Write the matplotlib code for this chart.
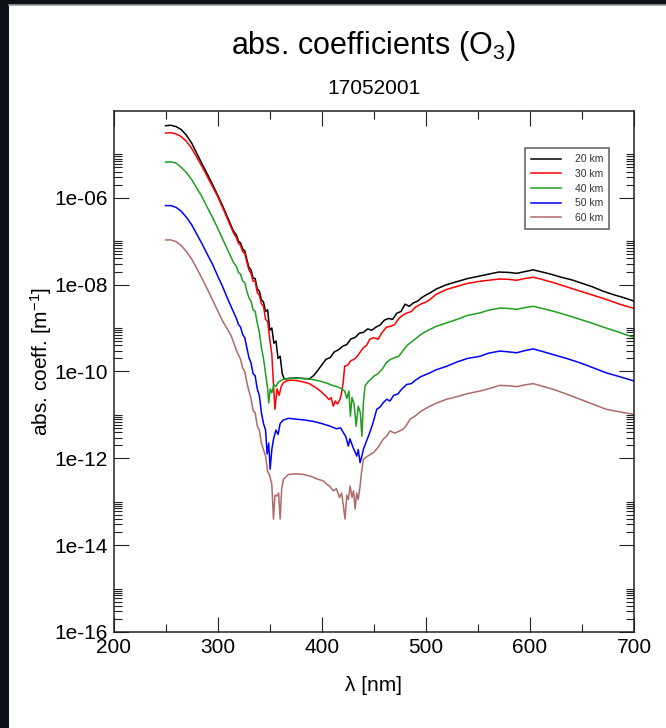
import numpy as np
import matplotlib
matplotlib.use("Agg")
import matplotlib.pyplot as plt
from matplotlib.patches import Rectangle
from matplotlib.ticker import FixedLocator, FuncFormatter

plt.rcParams['font.family'] = ['Liberation Sans', 'DejaVu Sans']
plt.rcParams['mathtext.fontset'] = 'custom'
plt.rcParams['mathtext.rm'] = 'Liberation Sans'
plt.rcParams['mathtext.it'] = 'Liberation Sans:italic'

# =========================
# data (log10 of abs. coeff. in m^-1)
# =========================
labels = ['20 km', '30 km', '40 km', '50 km', '60 km']
colors = ['#000000', '#ff0000', '#1f9f1f', '#0000ff', '#b06a6a']

wl_20 = [250, 255, 260, 265, 270, 275, 280, 285, 290, 295, 300, 305, 310, 315, 318, 320, 322, 324, 326, 328,
         330, 332, 334, 336, 338, 340, 342, 344, 346, 348, 350, 352, 354, 356, 358, 360, 362, 364, 368, 375,
         382, 388, 392, 396, 400, 404, 408, 412, 416, 420, 424, 428, 432, 436, 440, 444, 448, 452, 456, 460,
         464, 468, 472, 476, 480, 484, 488, 492, 496, 500, 504, 510, 520, 530, 540, 550, 560, 570, 580, 587,
         595, 603, 610, 620, 630, 640, 650, 660, 670, 680, 690, 700]
lk_20 = [-4.34, -4.33, -4.36, -4.43, -4.56, -4.74, -4.98, -5.22, -5.45, -5.69, -5.94, -6.20, -6.48, -6.76, -6.86,
         -7.00, -7.04, -7.18, -7.22, -7.42, -7.60, -7.66, -7.85, -7.86, -8.10, -8.15, -8.35, -8.40, -8.62, -8.58,
         -9.05, -9.00, -9.35, -9.30, -9.70, -9.65, -10.05, -10.18, -10.16, -10.15, -10.16, -10.17, -10.10, -9.98,
         -9.85, -9.72, -9.68, -9.55, -9.50, -9.42, -9.38, -9.25, -9.22, -9.12, -9.10, -9.02, -9.05, -8.98, -8.93,
         -8.82, -8.78, -8.80, -8.66, -8.62, -8.45, -8.50, -8.42, -8.38, -8.30, -8.24, -8.19, -8.10, -8.00, -7.93,
         -7.86, -7.81, -7.76, -7.71, -7.72, -7.74, -7.70, -7.66, -7.70, -7.76, -7.83, -7.89, -7.97, -8.05, -8.15,
         -8.23, -8.30, -8.38]

wl_30 = [250, 255, 260, 265, 270, 275, 280, 285, 290, 295, 300, 305, 310, 315, 318, 320, 322, 324, 326, 328,
         330, 332, 334, 336, 338, 340, 342, 344, 346, 348, 350, 352, 353.5, 355, 357, 359, 361, 363, 366, 370,
         376, 382, 388, 392, 396, 400, 404, 407, 409, 411, 413, 415, 417.5, 419, 420.5, 422, 425, 428, 431, 434,
         437, 440, 443, 446, 450, 454, 458, 462, 466, 470, 474, 478, 482, 486, 490, 495, 500, 504, 510, 520,
         530, 540, 550, 560, 571, 580, 587, 595, 603, 610, 622, 635, 648, 660, 673, 686, 700]
lk_30 = [-4.51, -4.50, -4.53, -4.59, -4.70, -4.86, -5.07, -5.28, -5.51, -5.74, -5.97, -6.24, -6.52, -6.80, -6.92,
         -7.05, -7.10, -7.24, -7.28, -7.48, -7.66, -7.74, -7.92, -7.92, -8.18, -8.24, -8.44, -8.50, -8.80, -8.85,
         -9.26, -9.60, -10.26, -10.87, -10.40, -10.55, -10.35, -10.26, -10.22, -10.20, -10.21, -10.24, -10.28,
         -10.34, -10.40, -10.48, -10.57, -10.65, -10.60, -10.80, -10.68, -10.75, -10.64, -10.50, -10.26, -9.88,
         -9.85, -9.75, -9.72, -9.65, -9.55, -9.45, -9.40, -9.26, -9.22, -9.26, -9.10, -8.98, -8.96, -8.92, -8.78,
         -8.70, -8.65, -8.62, -8.52, -8.45, -8.40, -8.34, -8.22, -8.11, -8.04, -7.97, -7.93, -7.90, -7.87, -7.88,
         -7.90, -7.86, -7.83, -7.87, -7.95, -8.05, -8.15, -8.24, -8.34, -8.45, -8.55]

wl_40 = [250, 255, 260, 265, 270, 275, 280, 285, 290, 295, 300, 305, 310, 315, 318, 320, 322, 324, 326, 328,
         330, 332, 334, 336, 338, 340, 342, 344, 346, 348, 349, 350.5, 352, 354, 356, 358, 360, 363, 370, 380,
         390, 398, 405, 410, 415, 419, 422, 424, 426, 427.5, 429, 431, 433, 435, 437, 438.5, 440, 441.5, 444, 447,
         450, 454, 458, 462, 466, 470, 474, 478, 482, 486, 490, 495, 500, 504, 510, 520, 530, 540, 552, 560,
         571, 580, 587, 595, 603, 612, 622, 635, 648, 660, 673, 686, 700]
lk_40 = [-5.18, -5.17, -5.20, -5.30, -5.42, -5.58, -5.78, -5.98, -6.22, -6.45, -6.70, -6.96, -7.22, -7.48, -7.58,
         -7.72, -7.76, -7.92, -7.95, -8.15, -8.30, -8.38, -8.58, -8.62, -8.88, -9.10, -9.45, -9.70, -10.05, -10.40,
         -10.72, -10.40, -10.49, -10.30, -10.35, -10.25, -10.22, -10.18, -10.16, -10.16, -10.18, -10.22, -10.27,
         -10.32, -10.35, -10.40, -10.45, -10.62, -10.45, -11.03, -10.60, -10.75, -11.26, -10.80, -10.95, -11.49,
         -10.70, -10.34, -10.25, -10.18, -10.11, -10.05, -9.95, -9.80, -9.72, -9.68, -9.65, -9.52, -9.40, -9.32,
         -9.25, -9.15, -9.08, -9.03, -8.96, -8.88, -8.80, -8.71, -8.65, -8.59, -8.54, -8.55, -8.57, -8.53, -8.50,
         -8.55, -8.61, -8.70, -8.80, -8.89, -9.00, -9.10, -9.22]

wl_50 = [250, 255, 260, 265, 270, 275, 280, 285, 290, 295, 300, 305, 310, 315, 318, 320, 322, 324, 326, 328,
         330, 332, 334, 336, 338, 340, 342, 344, 346, 347.5, 349, 350.4, 352, 353.6, 356, 358, 360, 363, 368, 376,
         384, 392, 400, 408, 414, 418, 421, 423, 425.5, 427, 430, 433.6, 435, 436.8, 438.5, 440, 443, 446, 449,
         452.8, 456, 459, 462.4, 465.5, 469, 473, 477, 481.5, 486, 490, 495, 500, 504, 510, 520, 530, 540, 552,
         560, 571, 580, 587, 595, 603, 612, 622, 635, 648, 660, 673, 686, 700]
lk_50 = [-6.18, -6.18, -6.22, -6.31, -6.45, -6.62, -6.84, -7.06, -7.30, -7.53, -7.80, -8.06, -8.35, -8.62, -8.78,
         -8.92, -8.98, -9.15, -9.22, -9.45, -9.68, -9.80, -10.05, -10.10, -10.40, -10.55, -10.95, -11.20, -11.35,
         -11.90, -11.65, -12.25, -11.80, -11.56, -11.35, -11.45, -11.20, -11.12, -11.08, -11.10, -11.12, -11.15,
         -11.20, -11.26, -11.32, -11.30, -11.42, -11.50, -11.72, -11.55, -11.75, -11.95, -11.80, -12.10, -11.95,
         -11.79, -11.60, -11.41, -11.20, -10.87, -10.82, -10.72, -10.64, -10.68, -10.55, -10.52, -10.40, -10.30,
         -10.28, -10.20, -10.12, -10.07, -10.03, -9.96, -9.88, -9.78, -9.70, -9.65, -9.58, -9.53, -9.55, -9.57,
         -9.52, -9.48, -9.54, -9.61, -9.70, -9.80, -9.91, -10.03, -10.12, -10.22]

wl_60 = [250, 255, 260, 265, 270, 275, 280, 285, 290, 295, 300, 305, 310, 313, 316, 318, 320, 322, 324, 326,
         328, 330, 332, 334, 336, 338, 340, 342, 344, 346, 348, 350, 352, 353.6, 355, 356.8, 358.5, 360, 361.5,
         363.2, 368, 375, 382, 390, 396, 401.5, 405, 408, 411, 414, 417, 419, 420.5, 422.3, 424, 425.5, 427.2,
         429, 430.5, 432, 433.5, 435, 436.8, 438, 440, 444, 449.5, 454, 459, 462, 465.5, 470, 474, 478, 481,
         484.7, 490, 495, 500, 504, 510, 520, 530, 540, 552, 560, 571, 580, 587, 595, 603, 612, 622, 635, 648,
         660, 673, 686, 700]
lk_60 = [-6.97, -6.97, -7.01, -7.10, -7.24, -7.41, -7.63, -7.86, -8.10, -8.35, -8.60, -8.85, -9.05, -9.18, -9.38,
         -9.52, -9.62, -9.72, -9.92, -10.00, -10.25, -10.45, -10.62, -10.90, -10.95, -11.25, -11.35, -11.65,
         -11.80, -11.95, -12.30, -12.40, -12.60, -13.40, -12.85, -12.87, -12.80, -13.40, -12.70, -12.48, -12.37,
         -12.36, -12.37, -12.42, -12.48, -12.52, -12.60, -12.65, -12.75, -12.70, -12.90, -12.80, -13.05, -13.40,
         -12.85, -12.95, -12.64, -12.90, -12.75, -13.17, -12.80, -12.95, -12.64, -12.35, -12.02, -11.95, -11.87,
         -11.75, -11.56, -11.50, -11.37, -11.42, -11.38, -11.33, -11.25, -11.10, -11.02, -10.92, -10.85, -10.80,
         -10.73, -10.64, -10.58, -10.51, -10.45, -10.40, -10.32, -10.33, -10.35, -10.31, -10.28, -10.34, -10.41,
         -10.52, -10.64, -10.75, -10.87, -10.93, -10.99]

series = [(wl_20, lk_20), (wl_30, lk_30), (wl_40, lk_40), (wl_50, lk_50), (wl_60, lk_60)]

x_major = [200, 300, 400, 500, 600, 700]
x_minor = [250, 350, 450, 550, 650]
y_major = [1e-16, 1e-14, 1e-12, 1e-10, 1e-08, 1e-06]

# =========================
# figure
# =========================
fig = plt.figure(figsize=(6.66, 7.28), dpi=100, facecolor='#0d1117')
panel = Rectangle((9 / 666, 0), 1, 723 / 728, transform=fig.transFigure,
                  facecolor='white', edgecolor='none', zorder=-10)
fig.patches.append(panel)
edge = plt.Line2D([9 / 666, 1], [723 / 728, 723 / 728], transform=fig.transFigure,
                  color='#9a9a9a', lw=1.2, zorder=-9)
fig.add_artist(edge)

ax = fig.add_axes([0.1705, 0.1319, 0.7817, 0.7157])
ax.set_facecolor('white')

for (wl, lk), c, lab in zip(series, colors, labels):
    ax.plot(wl, np.power(10.0, lk), color=c, lw=1.1, label=lab)

ax.set_yscale('log')
ax.set_xlim(200, 700)
ax.set_ylim(1e-16, 1e-4)

ax.xaxis.set_major_locator(FixedLocator(x_major))
ax.xaxis.set_minor_locator(FixedLocator(x_minor))
ax.yaxis.set_major_locator(FixedLocator(y_major))
y_minor = [k * 10.0 ** e for e in range(-16, -5, 2) for k in range(2, 11)]
ax.yaxis.set_minor_locator(FixedLocator(y_minor))
ax.yaxis.set_major_formatter(FuncFormatter(lambda v, p: f"{v:.0e}"))
ax.yaxis.set_minor_formatter(FuncFormatter(lambda v, p: ""))

ax.tick_params(which='both', direction='in', top=True, right=True, color='#222222', width=0.8)
ax.tick_params(which='major', length=10.8, labelsize=15, pad=4)
ax.tick_params(which='minor', length=5.6)
for s in ax.spines.values():
    s.set_color('#222222')
    s.set_linewidth(1.1)

ax.set_xlabel(r'λ [nm]', fontsize=15, labelpad=14)
fig.text(41 / 666, 1 - 362 / 728, r'abs. coeff. [m$^{-1}$]', fontsize=15, rotation=90,
         ha='center', va='center')

fig.text(0.561, 1 - 46 / 728, r'abs. coefficients (O$_3$)', fontsize=22, ha='center', va='center')
fig.text(0.561, 1 - 88 / 728, '17052001', fontsize=15, ha='center', va='center')

leg = ax.legend(loc='upper right', bbox_to_anchor=(0.952, 0.929), borderaxespad=0, fontsize=7.5,
                frameon=True, fancybox=False, handlelength=2.9, handletextpad=1.3, labelspacing=0.45,
                borderpad=0.6, labelcolor='#333333')
leg.get_frame().set_edgecolor('#333333')
leg.get_frame().set_linewidth(1.1)

fig.savefig('out.png', dpi=100, facecolor=fig.get_facecolor())
